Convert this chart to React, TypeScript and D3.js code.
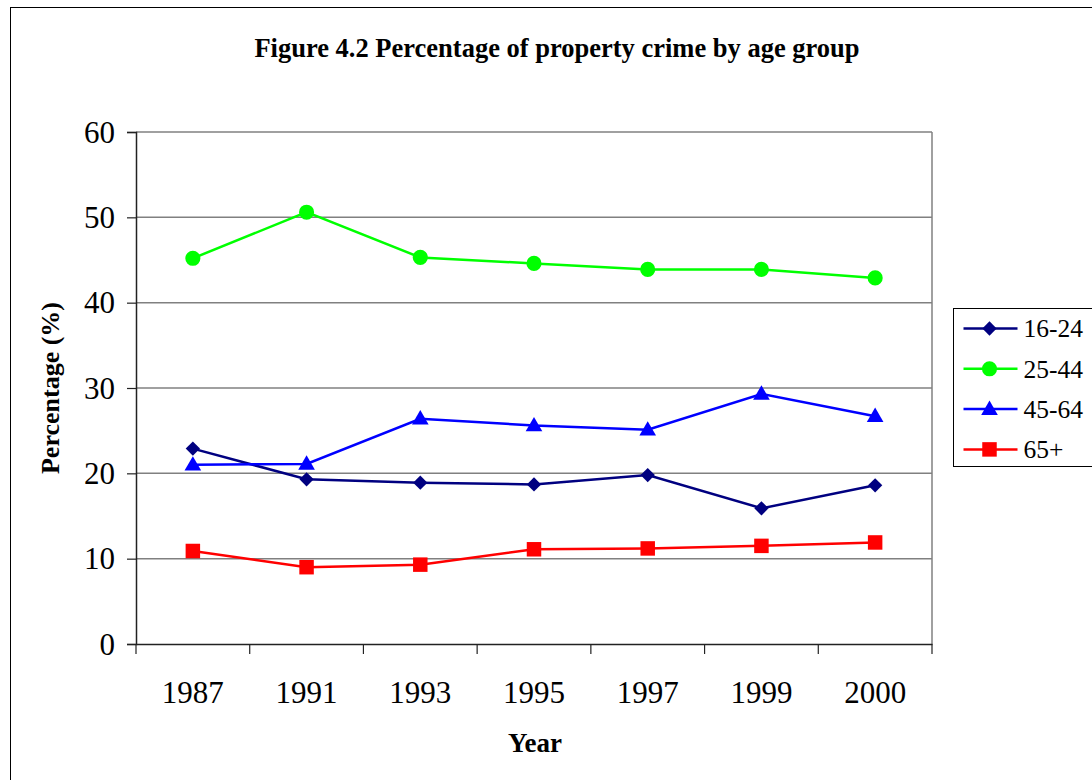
import { useRef, useEffect } from 'react';
import * as d3 from 'd3';

const years = ['1987', '1991', '1993', '1995', '1997', '1999', '2000'];
const age16to24 = [22.9, 19.3, 18.9, 18.7, 19.8, 15.9, 18.6];
const age25to44 = [45.2, 50.6, 45.3, 44.6, 43.9, 43.9, 42.9];
const age45to64 = [21.0, 21.1, 26.4, 25.6, 25.1, 29.3, 26.7];
const age65plus = [10.9, 9.0, 9.3, 11.1, 11.2, 11.5, 11.9];
const yTicks = [0, 10, 20, 30, 40, 50, 60];

type Series = {
  name: string;
  values: number[];
  color: string;
  symbol: d3.SymbolType;
  size: number;
};

const series: Series[] = [
  { name: '16-24', values: age16to24, color: '#000080', symbol: d3.symbolDiamond2, size: 130 },
  { name: '25-44', values: age25to44, color: '#00ff00', symbol: d3.symbolCircle, size: 180 },
  { name: '45-64', values: age45to64, color: '#0000ff', symbol: d3.symbolTriangle, size: 120 },
  { name: '65+', values: age65plus, color: '#ff0000', symbol: d3.symbolSquare, size: 210 },
];

const FONT = '"Liberation Serif", "Times New Roman", serif';

export default function App() {
  const svgRef = useRef<SVGSVGElement>(null);

  useEffect(() => {
    if (!svgRef.current) return;
    const svg = d3.select(svgRef.current);
    svg.selectAll('*').remove();

    const margin = { top: 132, right: 160, bottom: 136, left: 136 };
    const W = 1092;
    const H = 780;
    const width = W - margin.left - margin.right;
    const height = H - margin.top - margin.bottom;

    // outer frame
    svg.append('rect')
      .attr('x', 10.5).attr('y', 7.5)
      .attr('width', 1100).attr('height', 800)
      .attr('fill', 'white').attr('stroke', '#000').attr('stroke-width', 1);

    svg.append('text')
      .attr('x', 557).attr('y', 57)
      .attr('text-anchor', 'middle')
      .style('font-family', FONT).style('font-size', '26.5px').style('font-weight', 'bold')
      .text('Figure 4.2 Percentage of property crime by age group');

    const g = svg.append('g').attr('transform', `translate(${margin.left},${margin.top})`);

    const x = d3.scaleBand<string>().domain(years).range([0, width]);
    const y = d3.scaleLinear().domain([0, 60]).range([height, 0]);
    const cx = (d: string) => (x(d) ?? 0) + x.bandwidth() / 2;

    // gridlines
    g.selectAll('.grid')
      .data(yTicks.filter((t) => t > 0))
      .join('line')
      .attr('x1', 0).attr('x2', width)
      .attr('y1', (d) => y(d)).attr('y2', (d) => y(d))
      .attr('stroke', '#808080').attr('stroke-width', 1.5);

    // right border
    g.append('line')
      .attr('x1', width).attr('x2', width).attr('y1', 0).attr('y2', height)
      .attr('stroke', '#808080').attr('stroke-width', 1.5);

    // y axis
    const yAxis = g.append('g').call(d3.axisLeft(y).tickValues(yTicks).tickSize(9).tickPadding(12));
    yAxis.select('.domain').attr('stroke', '#222').attr('stroke-width', 1.5);
    yAxis.selectAll('.tick line').attr('stroke', '#222').attr('stroke-width', 1.2);
    yAxis.selectAll('text')
      .style('font-family', FONT).style('font-size', '31px').attr('fill', '#000').attr('dy', '0.33em');

    // x axis
    const xAxis = g.append('g').attr('transform', `translate(0,${height})`)
      .call(d3.axisBottom(x).tickSize(0).tickPadding(59));
    xAxis.select('.domain').attr('stroke', '#222').attr('stroke-width', 1.5);
    xAxis.selectAll('text')
      .style('font-family', FONT).style('font-size', '31px').attr('fill', '#000').attr('dy', 0);
    g.selectAll('.xtick')
      .data(d3.range(years.length + 1))
      .join('line')
      .attr('x1', (i) => i * x.step()).attr('x2', (i) => i * x.step())
      .attr('y1', height).attr('y2', height + 10)
      .attr('stroke', '#222').attr('stroke-width', 1.2);

    // axis titles
    svg.append('text')
      .attr('transform', `translate(59,${margin.top + height / 2}) rotate(-90)`)
      .attr('text-anchor', 'middle')
      .style('font-family', FONT).style('font-size', '26px').style('font-weight', 'bold')
      .text('Percentage (%)');
    svg.append('text')
      .attr('x', 535).attr('y', 752)
      .attr('text-anchor', 'middle')
      .style('font-family', FONT).style('font-size', '27px').style('font-weight', 'bold')
      .text('Year');

    // lines and markers
    const line = d3.line<number>()
      .x((_, i) => cx(years[i]))
      .y((d) => y(d));

    for (const s of series) {
      g.append('path')
        .datum(s.values)
        .attr('d', line)
        .attr('fill', 'none')
        .attr('stroke', s.color)
        .attr('stroke-width', 2.5);
      g.selectAll(null)
        .data(s.values)
        .join('path')
        .attr('d', d3.symbol(s.symbol, s.size)())
        .attr('transform', (d, i) => `translate(${cx(years[i])},${y(d) + (s.symbol === d3.symbolTriangle ? 1 : 0)})`)
        .attr('fill', s.color);
    }

    // legend
    const lg = svg.append('g').attr('transform', 'translate(953.5,308.5)');
    lg.append('rect')
      .attr('width', 160).attr('height', 158)
      .attr('fill', 'white').attr('stroke', '#000').attr('stroke-width', 1);
    series.forEach((s, i) => {
      const ly = 20 + i * 40.3;
      const row = lg.append('g').attr('transform', `translate(0,${ly})`);
      row.append('line')
        .attr('x1', 10).attr('x2', 64).attr('y1', 0).attr('y2', 0)
        .attr('stroke', s.color).attr('stroke-width', 2.5);
      row.append('path')
        .attr('d', d3.symbol(s.symbol, s.size)())
        .attr('transform', `translate(36,${s.symbol === d3.symbolTriangle ? 1 : 0})`)
        .attr('fill', s.color);
      row.append('text')
        .attr('x', 70).attr('y', 0).attr('dy', '0.35em')
        .style('font-family', FONT).style('font-size', '25.5px')
        .text(s.name);
    });
  }, []);

  return (
    <div style={{ position: 'absolute', left: 0, top: 0, width: 1092, height: 780, background: 'white' }}>
      <svg ref={svgRef} width={1092} height={780} />
    </div>
  );
}
